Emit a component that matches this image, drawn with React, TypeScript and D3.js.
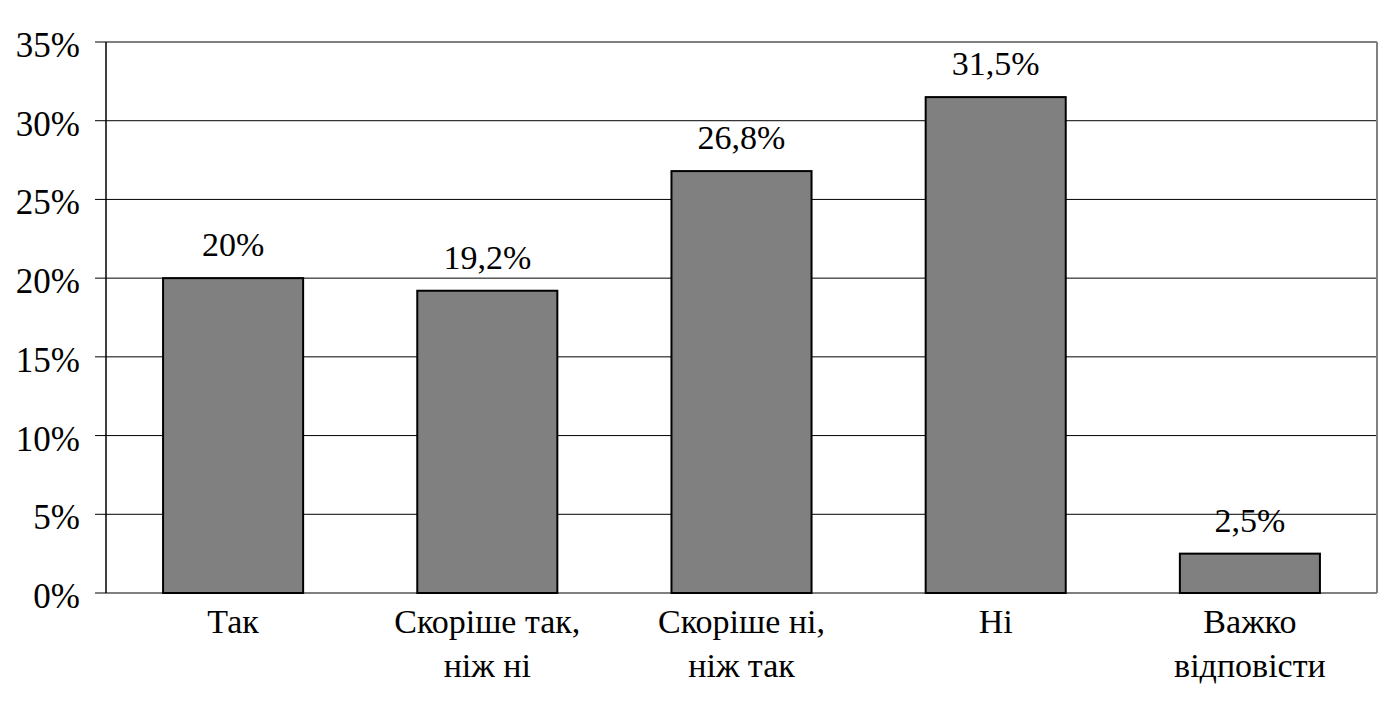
import React from "react";
import * as d3 from "d3";

const categories: string[][] = [
  ["Так"],
  ["Скоріше так,", "ніж ні"],
  ["Скоріше ні,", "ніж так"],
  ["Ні"],
  ["Важко", "відповісти"],
];
const values: number[] = [20, 19.2, 26.8, 31.5, 2.5];
const valueLabels: string[] = ["20%", "19,2%", "26,8%", "31,5%", "2,5%"];
const yTicks: number[] = [0, 5, 10, 15, 20, 25, 30, 35];

const W = 1388;
const H = 720;
const left = 106;
const right = 1377;
const top = 42;
const bottom = 593;
const FONT = "Liberation Serif, Times New Roman, DejaVu Serif, serif";
const axisTxt = { fontFamily: FONT, fontSize: 35 };
const txt = { fontFamily: FONT, fontSize: 34 };

export default function App() {
  const keys = categories.map((_, i) => String(i));
  const x = d3
    .scaleBand<string>()
    .domain(keys)
    .range([left, right])
    .paddingInner(0.449)
    .paddingOuter(0.2245);
  const y = d3.scaleLinear().domain([0, 35]).range([bottom, top]);

  return (
    <svg
      width={W}
      height={H}
      style={{ position: "absolute", left: 0, top: 0, background: "#fff", fontFamily: FONT }}
    >
      <rect x={0} y={0} width={W} height={H} fill="#fff" />
      {yTicks.slice(1, -1).map((t) => (
        <line key={"g" + t} x1={left} x2={right} y1={y(t)} y2={y(t)} stroke="#000" strokeWidth={1} />
      ))}
      <line x1={left} x2={right} y1={y(35)} y2={y(35)} stroke="#808080" strokeWidth={2} />
      <line x1={right} x2={right} y1={top} y2={bottom} stroke="#808080" strokeWidth={2} />
      <line x1={left} x2={right} y1={bottom} y2={bottom} stroke="#808080" strokeWidth={2} />
      {values.map((v, i) => (
        <rect
          key={"b" + i}
          x={x(keys[i])!}
          y={y(v)}
          width={x.bandwidth()}
          height={y(0) - y(v)}
          fill="#808080"
          stroke="#000"
          strokeWidth={2}
        />
      ))}
      <line x1={left} x2={left} y1={top} y2={bottom} stroke="#000" strokeWidth={1.5} />
      {yTicks.map((t) => (
        <g key={"t" + t}>
          <line x1={left - 11} x2={left} y1={y(t)} y2={y(t)} stroke="#000" strokeWidth={1} />
          <text x={80} y={y(t) + 15} textAnchor="end" style={axisTxt} fill="#000">
            {t + "%"}
          </text>
        </g>
      ))}
      {values.map((v, i) => (
        <text
          key={"v" + i}
          x={x(keys[i])! + x.bandwidth() / 2}
          y={y(v) - 22}
          textAnchor="middle"
          style={txt}
          fill="#000"
        >
          {valueLabels[i]}
        </text>
      ))}
      {categories.map((lines, i) => (
        <text key={"c" + i} textAnchor="middle" style={txt} fill="#000">
          {lines.map((ln, j) => (
            <tspan key={j} x={x(keys[i])! + x.bandwidth() / 2} y={633 + j * 44}>
              {ln}
            </tspan>
          ))}
        </text>
      ))}
    </svg>
  );
}
